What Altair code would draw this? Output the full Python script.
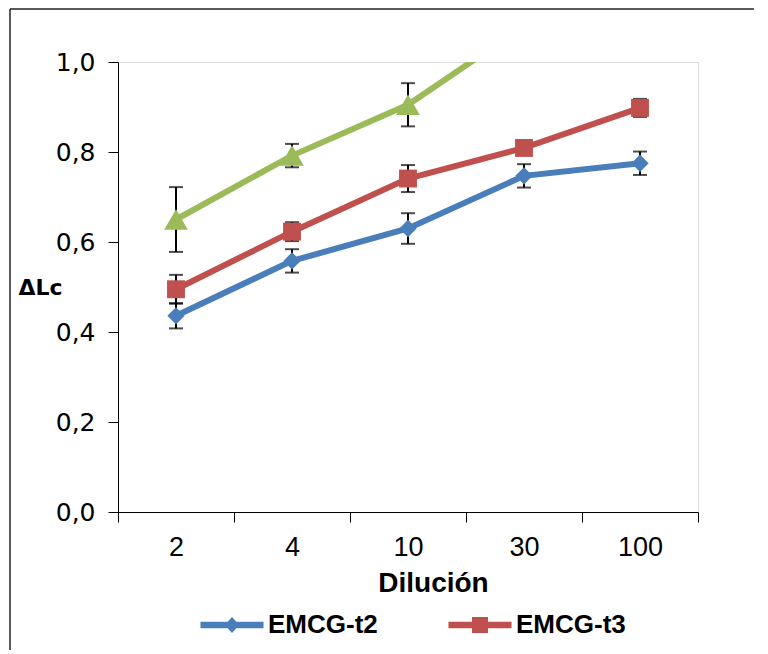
import altair as alt
import pandas as pd

cats = ["2", "4", "10", "30", "100"]
series = ["EMCG-t2", "EMCG-t3", "EMCG-t4"]
colors = ["#4A7EBB", "#C0504D", "#9BBB59"]

t2_vals = [0.436, 0.558, 0.630, 0.747, 0.775]
t2_err = [0.028, 0.026, 0.034, 0.026, 0.026]
t3_vals = [0.495, 0.623, 0.741, 0.809, 0.898]
t3_err = [0.032, 0.021, 0.030, 0.010, 0.020]
t4_cats = ["2", "4", "10", "30"]
t4_vals = [0.650, 0.792, 0.905, 1.080]
t4_err = [0.072, 0.026, 0.048, 0.030]

rows = []
for c, v, e in zip(cats, t2_vals, t2_err):
    rows.append({"Dilucion": c, "Serie": series[0], "v": v, "lo": v - e, "hi": v + e})
for c, v, e in zip(cats, t3_vals, t3_err):
    rows.append({"Dilucion": c, "Serie": series[1], "v": v, "lo": v - e, "hi": v + e})
for c, v, e in zip(t4_cats, t4_vals, t4_err):
    rows.append({"Dilucion": c, "Serie": series[2], "v": v, "lo": v - e, "hi": v + e})
df = pd.DataFrame(rows)
df["i"] = df["Dilucion"].map(lambda c: cats.index(c))

color_scale = alt.Scale(domain=series, range=colors)

x_enc = alt.X(
    "Dilucion:N", sort=cats,
    scale=alt.Scale(paddingInner=0, paddingOuter=0),
    axis=alt.Axis(
        title="Dilución", labelAngle=0, tickBand="extent", tickSize=10,
        labelPadding=12, labelFont="Liberation Sans", labelFontSize=27,
        labelColor="#000", titleFont="Liberation Sans", titleFontSize=28,
        titleFontWeight="bold", titleColor="#000", titleX=315, titleY=71,
        titleBaseline="middle", titleAlign="center",
        domainColor="#000", tickColor="#000",
    ),
)
y_enc = alt.Y(
    "v:Q",
    scale=alt.Scale(domain=[0, 1], nice=False, zero=True),
    axis=alt.Axis(
        title="ΔLc", values=[0, 0.2, 0.4, 0.6, 0.8, 1.0],
        labelExpr="replace(format(datum.value, '.1f'), '.', ',')",
        tickSize=10, labelPadding=13, grid=False,
        labelFont="DejaVu Sans", labelFontSize=25, labelColor="#000",
        titleFont="DejaVu Sans", titleFontSize=22, titleFontWeight="bold",
        titleColor="#000", titleAngle=0, titleAlign="left",
        titleBaseline="middle", titleX=-100, titleY=225,
        domainColor="#000", tickColor="#000",
    ),
)

base = alt.Chart(df)

err_rule = base.mark_rule(color="#000", strokeWidth=2, clip=True).encode(
    x=alt.X("Dilucion:N", sort=cats), y="lo:Q", y2="hi:Q"
)
err_lo = base.mark_tick(color="#000", thickness=2, size=14, clip=True).encode(
    x=alt.X("Dilucion:N", sort=cats), y="lo:Q"
)
err_hi = base.mark_tick(color="#000", thickness=2, size=14, clip=True).encode(
    x=alt.X("Dilucion:N", sort=cats), y="hi:Q"
)

line_layers = []
for s, col in zip(series, colors):
    line_layers.append(
        base.transform_filter(alt.datum.Serie == s)
        .mark_line(strokeWidth=6, color=col, clip=True)
        .encode(x=x_enc, y=y_enc, order=alt.Order("i:Q"))
    )

shapes = ["diamond", "square", "triangle-up"]
sizes = [300, 320, 560]
point_layers = []
for s, col, shp, sz in zip(series, colors, shapes, sizes):
    point_layers.append(
        base.transform_filter(alt.datum.Serie == s)
        .mark_point(filled=True, shape=shp, size=sz, color=col, opacity=1,
                    strokeWidth=0, clip=True)
        .encode(x=alt.X("Dilucion:N", sort=cats), y="v:Q")
    )

legend_paths = [
    "M-3.94,-0.4L3.94,-0.4L3.94,0.4L-3.94,0.4Z M0,-1L0.9,0L0,1L-0.9,0Z",
    "M-3.94,-0.4L3.94,-0.4L3.94,0.4L-3.94,0.4Z M-1,-1L1,-1L1,1L-1,1Z",
    "M-3.94,-0.4L3.94,-0.4L3.94,0.4L-3.94,0.4Z M0,-1L1,0.8L-1,0.8Z",
]
leg_df = pd.DataFrame({"Serie": series[:2]})
legend_layer = alt.Chart(leg_df).mark_point(filled=True, clip=True, opacity=1).encode(
    x=alt.value(-400), y=alt.value(-400),
    color=alt.Color(
        "Serie:N", scale=color_scale,
        legend=alt.Legend(
            title=None, orient="none", legendX=101, legendY=550,
            direction="horizontal", values=series[:2],
            labelFont="Liberation Sans", labelFontSize=26, labelFontWeight="bold",
            labelColor="#000", symbolSize=256, symbolStrokeWidth=0,
            symbolOpacity=1, labelOffset=23, columnPadding=70,
        ),
    ),
    shape=alt.Shape("Serie:N", scale=alt.Scale(domain=series, range=legend_paths)),
)

one = pd.DataFrame({"a": [0]})
frame_top = alt.Chart(one).mark_rule(color="#222", strokeWidth=1.5).encode(
    x=alt.value(-108), x2=alt.value(636), y=alt.value(-53)
)
frame_left = alt.Chart(one).mark_rule(color="#222", strokeWidth=1.5).encode(
    x=alt.value(-108), y=alt.value(-53), y2=alt.value(588)
)

chart = alt.layer(
    frame_top, frame_left, *line_layers, err_rule, err_lo, err_hi, *point_layers, legend_layer
).properties(
    width=580, height=450,
    padding={"left": 1, "top": 0, "right": 0, "bottom": 0},
).configure_view(stroke=None).configure(background="white")

chart.save("out.html", embed_options={"renderer": "svg", "actions": False})
